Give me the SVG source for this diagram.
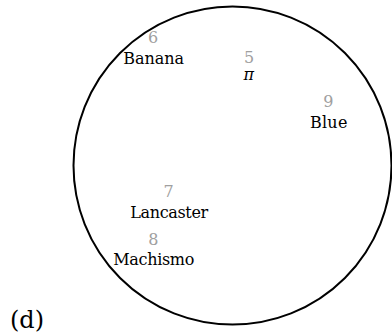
<svg xmlns="http://www.w3.org/2000/svg" width="392" height="335" viewBox="0 0 392 335">
<style>
text{font-family:"DejaVu Serif",serif}
.lbl{font-size:16px;fill:#000;text-anchor:middle}
.num{font-size:16px;fill:#a0a0a0;text-anchor:middle}
.pi{font-size:16px;font-style:italic;fill:#000;text-anchor:middle}
.cap{font-size:24px;fill:#000}
</style>
<rect width="392" height="335" fill="#fff"/>
<g id="connectors"></g>
<g id="circle">
<circle cx="232.5" cy="165.5" r="159" fill="none" stroke="#000" stroke-width="2"/>
</g>
<g id="node5">
<text class="num" x="249" y="62.5">5</text>
<text class="pi" x="248.7" y="80">π</text>
</g>
<g id="node6">
<text class="num" x="153" y="43.3">6</text>
<text class="lbl" x="153.7" y="64" textLength="60.7">Banana</text>
</g>
<g id="node7">
<text class="num" x="168.5" y="196.8">7</text>
<text class="lbl" x="169.2" y="218.3" textLength="78">Lancaster</text>
</g>
<g id="node8">
<text class="num" x="153.3" y="245">8</text>
<text class="lbl" x="153.8" y="265.3" textLength="81">Machismo</text>
</g>
<g id="node9">
<text class="num" x="328.3" y="107.3">9</text>
<text class="lbl" x="328.7" y="128.3" textLength="37.3">Blue</text>
</g>
<g id="caption">
<text class="cap" x="10" y="328.3">(d)</text>
</g>
</svg>
